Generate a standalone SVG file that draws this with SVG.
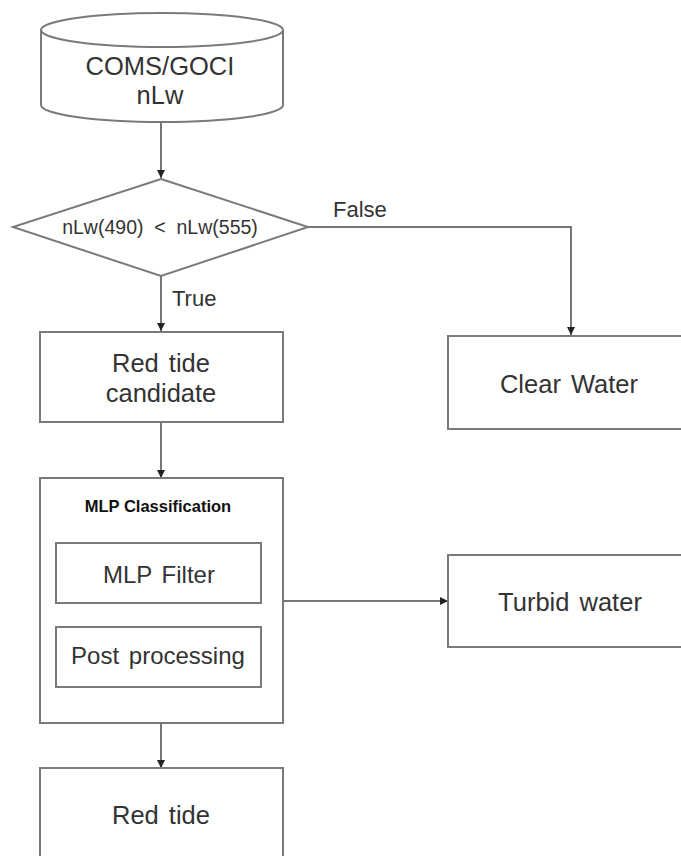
<svg xmlns="http://www.w3.org/2000/svg" width="681" height="856" viewBox="0 0 681 856">
<defs>
<style>
.box{fill:#fff;stroke:#7a7a7a;stroke-width:2}
.conn{fill:none;stroke:#4a4a4a;stroke-width:1.5}
text{font-family:"Liberation Sans",Arial,sans-serif;fill:#333;text-anchor:middle}
.lg{font-size:25.5px;word-spacing:3px}
.md{font-size:24px;word-spacing:3px}
.sm{font-size:19.5px}
.b{font-size:16.5px;font-weight:bold;fill:#111}
.lab{font-size:22px;text-anchor:start}
</style>
<marker id="ah" viewBox="0 0 10 10" refX="10" refY="5" markerWidth="8" markerHeight="8" markerUnits="userSpaceOnUse" orient="auto">
<path d="M0,0 L10,5 L0,10 z" fill="#222"/>
</marker>
</defs>
<rect width="681" height="856" fill="#fff"/>
<g id="connectors">
<line class="conn" x1="161" y1="122" x2="161" y2="178" marker-end="url(#ah)"/>
<line class="conn" x1="161" y1="276" x2="161" y2="331" marker-end="url(#ah)"/>
<polyline class="conn" points="308,227 571,227 571,335" marker-end="url(#ah)"/>
<line class="conn" x1="161" y1="422" x2="161" y2="478" marker-end="url(#ah)"/>
<line class="conn" x1="283" y1="601" x2="448" y2="601" marker-end="url(#ah)"/>
<line class="conn" x1="161" y1="723" x2="161" y2="768" marker-end="url(#ah)"/>
<text class="lab" x="333" y="217">False</text>
<text class="lab" x="172" y="306">True</text>
</g>
<g id="source">
<path class="box" d="M41,30 L41,105 A121,17 0 0 0 283,105 L283,30"/>
<ellipse class="box" cx="162" cy="30" rx="121" ry="17"/>
<text class="lg" x="160" y="75">COMS/GOCI</text>
<text class="lg" x="160" y="104">nLw</text>
</g>
<g id="decision">
<polygon class="box" points="161,179 308,227 161,276 13,227"/>
<text class="sm" x="160" y="234" xml:space="preserve">nLw(490)  &lt;  nLw(555)</text>
</g>
<g id="candidate">
<rect class="box" x="40" y="332" width="243" height="90"/>
<text class="lg" x="161" y="372">Red tide</text>
<text class="lg" x="161" y="402">candidate</text>
</g>
<g id="clear">
<rect class="box" x="448" y="336" width="240" height="93"/>
<text class="lg" x="569" y="393">Clear Water</text>
</g>
<g id="mlp">
<rect class="box" x="40" y="478" width="243" height="245"/>
<text class="b" x="158" y="512">MLP Classification</text>
<g id="filter">
<rect class="box" x="56" y="543" width="205" height="60"/>
<text class="md" x="159" y="583">MLP Filter</text>
</g>
<g id="post">
<rect class="box" x="56" y="627" width="205" height="60"/>
<text class="md" x="158" y="664">Post processing</text>
</g>
</g>
<g id="turbid">
<rect class="box" x="448" y="555" width="240" height="92"/>
<text class="lg" x="570" y="611">Turbid water</text>
</g>
<g id="redtide">
<rect class="box" x="40" y="768" width="243" height="100"/>
<text class="lg" x="161" y="824">Red tide</text>
</g>
</svg>
